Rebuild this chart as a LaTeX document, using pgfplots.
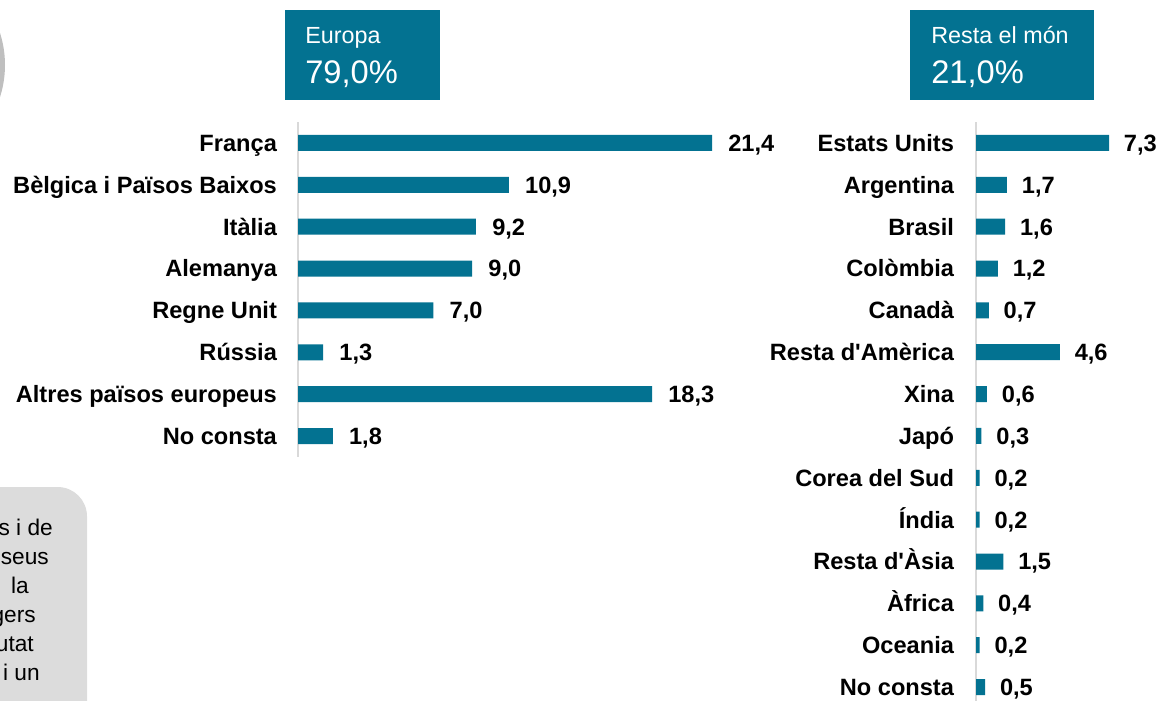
\documentclass[border=0pt]{standalone}
\usepackage{pgfplots}
\pgfplotsset{compat=1.18}
\usepackage{fontspec}
\setmainfont{Liberation Sans}
\definecolor{barc}{RGB}{3,114,145}
\definecolor{boxgray}{RGB}{220,220,220}
\newcommand{\lab}{\fontsize{17.7}{20}\selectfont\bfseries}
\begin{document}
\begin{tikzpicture}[x=0.75pt,y=-0.75pt]
\path[use as bounding box, clip] (0,0) rectangle (1162,700);
% decorations cut by the frame
\fill[black!25] (-100,65) circle (105);
\fill[boxgray, rounded corners=22pt] (-200,487) rectangle (87,800);
\begin{scope}[every node/.style={anchor=base east, inner sep=0pt, font=\fontsize{17}{20}\selectfont}]
\node at (53,535) {s i de};
\node at (49,564) {seus};
\node at (29,593) {la};
\node at (36,622) {gers};
\node at (34,651) {utat};
\node at (40,680) {i un};
\end{scope}
% header boxes
\fill[barc] (285,10) rectangle (440,100);
\node[anchor=base west, inner sep=0pt, text=white, font=\fontsize{17.5}{20}\selectfont] at (305,43) {Europa};
\node[anchor=base west, inner sep=0pt, text=white, font=\fontsize{24.5}{28}\selectfont] at (305,83) {79,0\%};
\fill[barc] (910,10) rectangle (1094,100);
\node[anchor=base west, inner sep=0pt, text=white, font=\fontsize{17.5}{20}\selectfont] at (931,43) {Resta el món};
\node[anchor=base west, inner sep=0pt, text=white, font=\fontsize{24.5}{28}\selectfont] at (931,83) {21,0\%};
% Europe
\begin{axis}[
  at={(223.5pt,-91.5pt)}, anchor=north west, scale only axis,
  width=310.5pt, height=251.25pt,
  xmin=0, xmax=21.4, ymin=-0.5, ymax=7.5, y dir=reverse,
  xbar, bar width=12pt, clip=false,
  axis x line=none, axis y line=left,
  y axis line style={draw=black!15, line width=1.2pt, -},
  ytick={0,...,7},
  yticklabels={França, Bèlgica i Països Baixos, Itàlia, Alemanya, Regne Unit, Rússia, Altres països europeus, No consta},
  ytick style={draw=none},
  yticklabel style={font=\lab, inner sep=0pt, anchor=base east, xshift=-13.5pt, yshift=-6.3pt},
  nodes near coords,
  every node near coord/.append style={font=\lab, anchor=base west, inner sep=0pt, xshift=12pt, yshift=-6.3pt},
  /pgf/number format/.cd, fixed, fixed zerofill, precision=1, use comma, assume math mode=true,
]
\addplot[fill=barc, draw=none] coordinates {(21.4,0) (10.9,1) (9.2,2) (9.0,3) (7.0,4) (1.3,5) (18.3,6) (1.8,7)};
\end{axis}
% Rest of the world
\begin{axis}[
  at={(732pt,-91.5pt)}, anchor=north west, scale only axis,
  width=99.75pt, height=439.5pt,
  xmin=0, xmax=7.3, ymin=-0.5, ymax=13.5, y dir=reverse,
  xbar, bar width=12pt, clip=false,
  axis x line=none, axis y line=left,
  y axis line style={draw=black!15, line width=1.2pt, -},
  ytick={0,...,13},
  yticklabels={Estats Units, Argentina, Brasil, Colòmbia, Canadà, Resta d\textquotesingle Amèrica, Xina, Japó, Corea del Sud, Índia, Resta d\textquotesingle Àsia, Àfrica, Oceania, No consta},
  ytick style={draw=none},
  yticklabel style={font=\lab, inner sep=0pt, anchor=base east, xshift=-14.2pt, yshift=-6.3pt},
  nodes near coords,
  every node near coord/.append style={font=\lab, anchor=base west, inner sep=0pt, xshift=11pt, yshift=-6.3pt},
  /pgf/number format/.cd, fixed, fixed zerofill, precision=1, use comma, assume math mode=true,
]
\addplot[fill=barc, draw=none] coordinates {(7.3,0) (1.7,1) (1.6,2) (1.2,3) (0.7,4) (4.6,5) (0.6,6) (0.3,7) (0.2,8) (0.2,9) (1.5,10) (0.4,11) (0.2,12) (0.5,13)};
\end{axis}
\end{tikzpicture}
\end{document}
